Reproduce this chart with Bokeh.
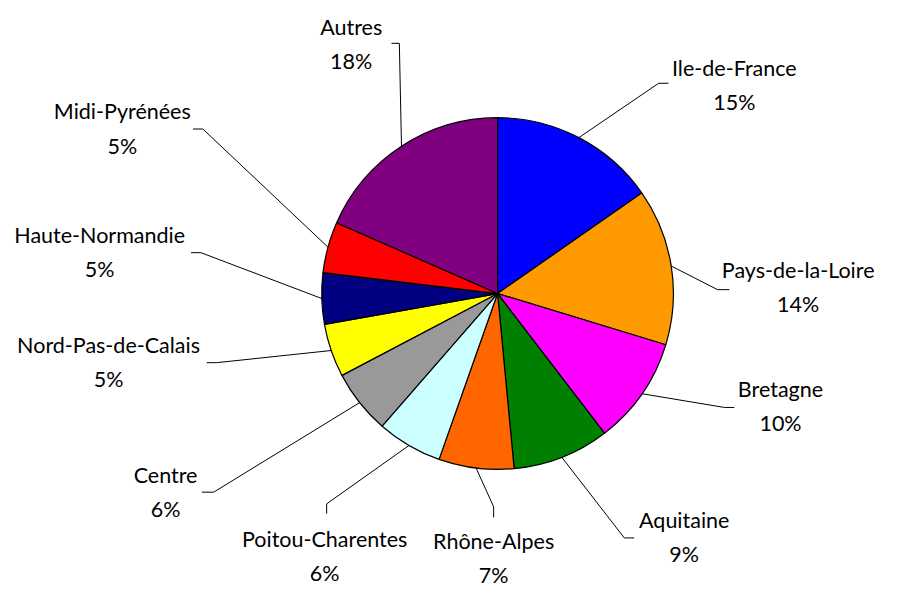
import math
from bokeh.plotting import figure
from bokeh.models import Range1d, ColumnDataSource
from bokeh.core.properties import value
from bokeh.embed import file_html
from bokeh.resources import INLINE

# ---- data ----
regions = ["Ile-de-France", "Pays-de-la-Loire", "Bretagne", "Aquitaine", "Rhône-Alpes",
           "Poitou-Charentes", "Centre", "Nord-Pas-de-Calais", "Haute-Normandie",
           "Midi-Pyrénées", "Autres"]
shares = [15.3, 14.4, 9.9, 8.9, 6.9, 6.0, 5.9, 4.9, 4.7, 4.7, 18.4]
colors = ["#0000FF", "#FF9900", "#FF00FF", "#008000", "#FF6600",
          "#CCFFFF", "#999999", "#FFFF00", "#000080", "#FF0000", "#800080"]

# ---- layout (reference-picture pixel coordinates) ----
W, H = 907, 606
PW, PH = 891, 590
CX, CY, R = 506, 301, 179
label_pos = [(747, 69), (812, 277), (794, 399), (696, 534), (502, 555),
             (330, 553), (168, 487), (110, 354), (101, 241), (124, 114), (357, 27)]
leader_elbow = [(670, 85), (730, 297), (737, 418), (635, 552), (502, 520),
                (332, 517), (217, 505), (220, 372), (204, 259), (206, 132), (406, 44)]
leader_end = [(680, 85), (742, 297), (747, 418), (645, 552), (502, 531),
              (332, 527), (205, 505), (210, 372), (194, 259), (196, 132), (398, 44)]
LINE_GAP = 35

sx, sy = PW / W, PH / H   # screen px per data unit


def fy(y):
    return H - y


total = sum(shares)
starts, ends, mids = [], [], []
cum = 0.0
for s in shares:
    a0 = cum / total
    cum += s
    a1 = cum / total
    starts.append(math.pi / 2 - 2 * math.pi * a1)
    ends.append(math.pi / 2 - 2 * math.pi * a0)
    mids.append((a0 + a1) / 2)

p = figure(width=PW, height=PH, output_backend="svg", toolbar_location=None,
           x_range=Range1d(0, W), y_range=Range1d(0, H),
           min_border=0, outline_line_color=None)
p.axis.visible = False
p.grid.visible = False
p.background_fill_color = "white"
p.border_fill_color = "white"

src = ColumnDataSource(dict(x=[CX] * len(shares), y=[fy(CY)] * len(shares),
                            start=starts, end=ends, color=colors))
p.wedge(x="x", y="y", radius=R, start_angle="start", end_angle="end",
        fill_color="color", line_color="black", line_width=1.2, source=src)

# leader lines: from slice mid-point on the rim to the label
xs, ys = [], []
for m, e, t in zip(mids, leader_elbow, leader_end):
    ang = 2 * math.pi * m
    ex = CX + R * math.sin(ang)
    ey = CY - R * math.cos(ang) * sx / sy
    xs.append([ex, e[0], t[0]])
    ys.append([fy(ey), fy(e[1]), fy(t[1])])
p.multi_line(xs, ys, line_color="black", line_width=1)

names_src = ColumnDataSource(dict(
    x=[lp[0] for lp in label_pos], y=[fy(lp[1]) for lp in label_pos], t=regions))
pct_src = ColumnDataSource(dict(
    x=[lp[0] for lp in label_pos], y=[fy(lp[1] + LINE_GAP) for lp in label_pos],
    t=[f"{round(s)}%" for s in shares]))
for s in (names_src, pct_src):
    p.text(x="x", y="y", text="t", source=s, text_font=value("Lato"),
           text_font_size="21.5px", text_align="center", text_baseline="middle",
           text_color="black")

open("out.html", "w").write(file_html(p, INLINE))
